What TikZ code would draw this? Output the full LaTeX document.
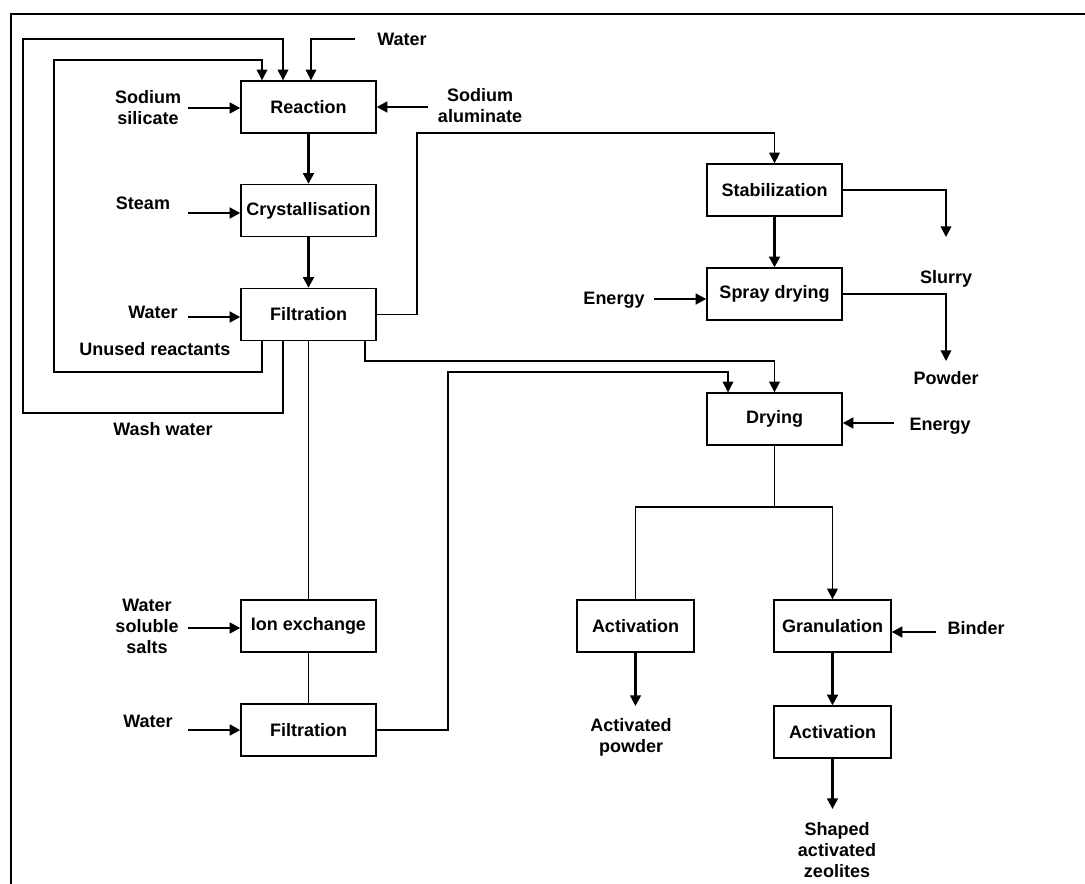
\documentclass[tikz,border=0pt]{standalone}
\usepackage{fontspec}
\setmainfont{Liberation Sans}
\usetikzlibrary{arrows.meta}
\tikzset{
  procbox/.style={draw,line width=1pt,minimum width=101.25pt,minimum height=39pt,inner sep=1pt},
  shortbox/.style={procbox,minimum width=87.75pt},
  tagtext/.style={align=center,inner sep=0pt},
  feedline/.style={line width=1.9pt,-{Triangle[length=8pt,width=8pt]}},
  routeline/.style={line width=1.1pt,-{Triangle[length=8pt,width=8pt]}},
  thinline/.style={line width=0.8pt},
}
\newcommand{\leftfeed}[5]{%
  \node[tagtext] (#1) at (#2) {#3};
  \coordinate (#1s) at (188,#4);
  \draw[feedline] (#1s) -- (#1s -| #5.west);}

\begin{document}
\begin{tikzpicture}[x=0.75pt,y=-0.75pt,font=\fontsize{13.5}{15.75}\selectfont\bfseries]
  \useasboundingbox (0,0) rectangle (1085,884);
  \draw[line width=1.5pt] (1085,14) -- (11,14) -- (11,884);
  % process boxes
  \node[procbox] (react) at (308.5,107) {Reaction};
  \node[procbox] (cryst) at (308.5,210.5) {Crystallisation};
  \node[procbox] (filt) at (308.5,314.5) {Filtration};
  \node[procbox] (ionx) at (308.5,626) {Ion exchange};
  \node[procbox] (filtb) at (308.5,730) {Filtration};
  \node[procbox] (stab) at (774.5,190) {Stabilization};
  \node[procbox] (spray) at (774.5,294) {Spray drying};
  \node[procbox] (dry) at (774.5,419) {Drying};
  \node[shortbox] (actp) at (635.5,626) {Activation};
  \node[shortbox] (gran) at (832.5,626) {Granulation};
  \node[shortbox] (acts) at (832.5,732) {Activation};
  % feeds from the left
  \leftfeed{sili}{148,108}{Sodium\\silicate}{108}{react}
  \leftfeed{steam}{143,203}{Steam}{213}{cryst}
  \leftfeed{wtra}{153,312}{Water}{317}{filt}
  \leftfeed{salt}{147,626}{Water\\soluble\\salts}{628}{ionx}
  \leftfeed{wtrb}{148,721}{Water}{730}{filtb}
  % other feeds
  \node[tagtext] (alum) at (480,106) {Sodium\\aluminate};
  \coordinate (alums) at (428,107);
  \draw[feedline] (alums) -- (alums -| react.east);
  \node[tagtext] (wtop) at (402,39) {Water};
  \coordinate (wtops) at (355,39);
  \coordinate (wtopx) at (311,0);
  \draw[routeline] (wtops) -| (react.north -| wtopx);
  \node[tagtext] (enga) at (614,300) {Energy};
  \coordinate (engas) at (654,299);
  \draw[feedline] (engas) -- (engas -| spray.west);
  \node[tagtext] (engb) at (940,426) {Energy};
  \coordinate (engbs) at (894,423);
  \draw[feedline] (engbs) -- (engbs -| dry.east);
  \node[tagtext] (bind) at (976,628) {Binder};
  \coordinate (binds) at (936,632);
  \draw[feedline] (binds) -- (binds -| gran.east);
  % main flow
  \draw[feedline] (react) -- (cryst);
  \draw[feedline] (cryst) -- (filt);
  \draw[thinline] (filt) -- (ionx);
  \draw[thinline] (ionx) -- (filtb);
  \draw[feedline] (stab) -- (spray);
  \draw[feedline] (gran) -- (acts);
  % products
  \node[tagtext] (slur) at (946,279) {Slurry};
  \node[tagtext] (powd) at (946,378) {Powder};
  \coordinate (slurt) at (946,237);
  \coordinate (powdt) at (946,361);
  \draw[routeline] (stab.east) -| (slurt);
  \draw[routeline] (spray.east) -| (powdt);
  \node[tagtext] (actpw) at (631,737) {Activated\\powder};
  \coordinate (actpwt) at (632,706);
  \draw[feedline] (actp) -- (actp |- actpwt);
  \node[tagtext] (zeol) at (837,850) {Shaped\\activated\\zeolites};
  \coordinate (zeolt) at (838,809);
  \draw[feedline] (acts) -- (acts |- zeolt);
  % drying split
  \coordinate (split) at (774.5,507);
  \draw[thinline] (dry) -- (split);
  \draw[thinline] (split) -| (actp);
  \draw[routeline] (split) -| (gran);
  % filtration routes
  \coordinate (jogA) at (417,133);
  \draw[routeline] (filt.east) -| (jogA) -| (stab);
  \coordinate (jogB) at (365,361);
  \draw[routeline] (filt.south -| jogB) -- (jogB) -| (dry);
  \coordinate (jogC) at (448,372);
  \coordinate (dryin) at (728,0);
  \draw[routeline] (filtb.east) -| (jogC) -| (dry.north -| dryin);
  % recycle loops
  \coordinate (loopa) at (262,0);
  \coordinate (loopb) at (283,0);
  \draw[routeline] (filt.south -| loopa) -- (262,372) -- (54,372) -- (54,60) -- (262,60) -- (react.north -| loopa);
  \draw[routeline] (filt.south -| loopb) -- (283,413) -- (23,413) -- (23,39) -- (283,39) -- (react.north -| loopb);
  \node[tagtext] (unus) at (155,349) {Unused reactants};
  \node[tagtext] (wash) at (163,429) {Wash water};
\end{tikzpicture}
\end{document}
